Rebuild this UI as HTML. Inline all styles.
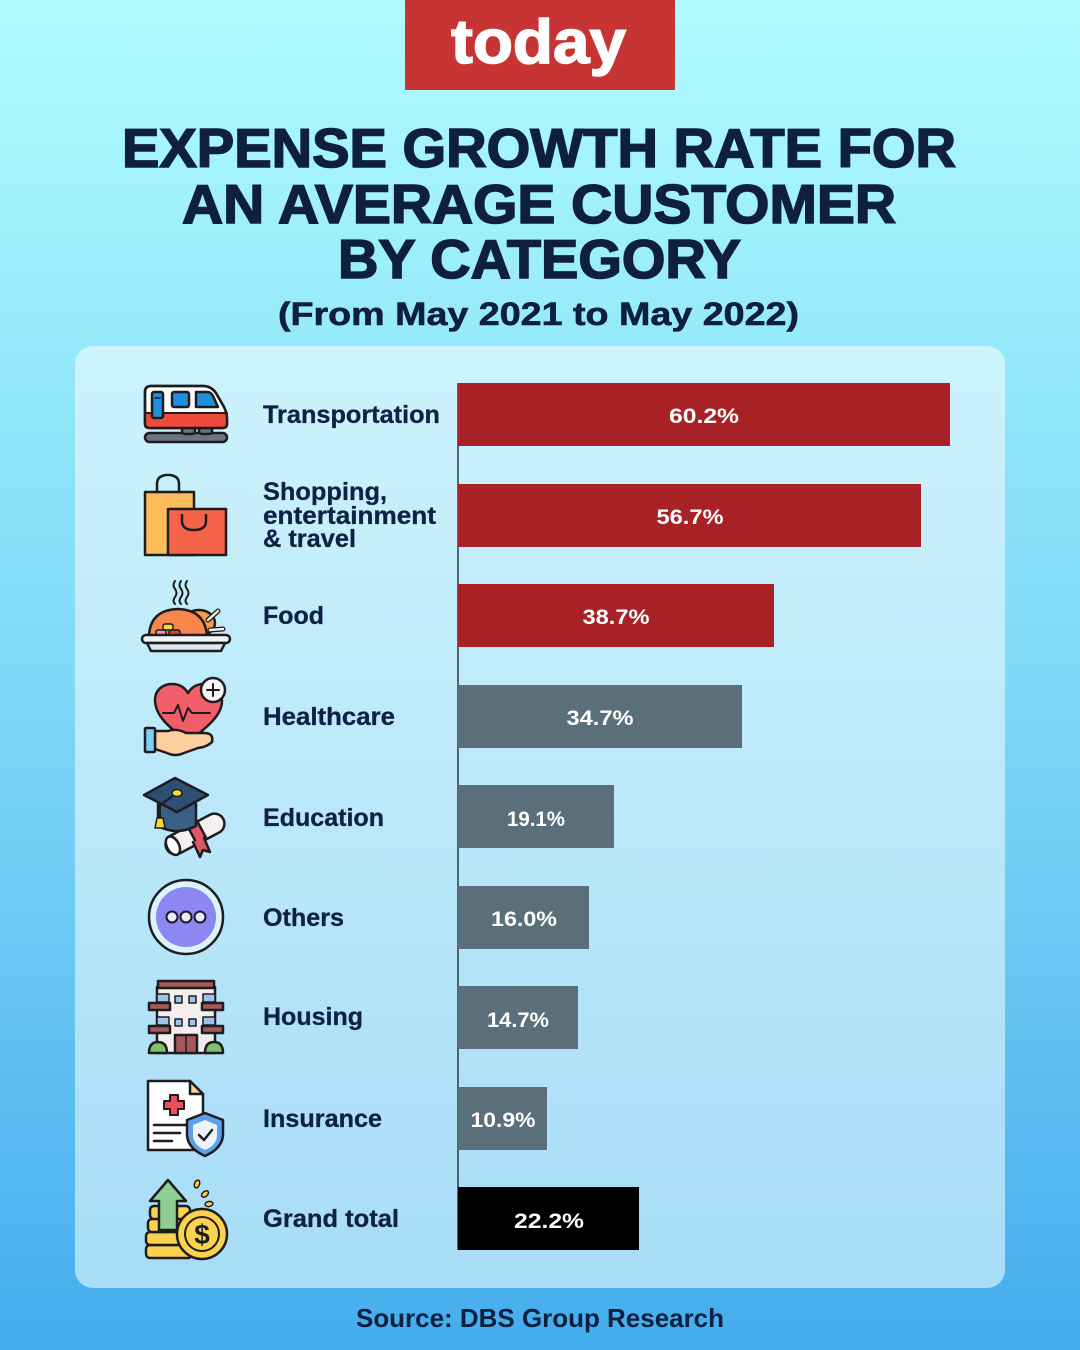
<!DOCTYPE html>
<html><head><meta charset="utf-8"><style>
html,body{margin:0;padding:0;width:1080px;height:1350px;overflow:hidden}
svg{display:block}
text{font-family:"Liberation Sans",sans-serif;font-weight:bold}
</style></head><body>
<svg width="1080" height="1350" viewBox="0 0 1080 1350" xmlns="http://www.w3.org/2000/svg">
<defs>
<linearGradient id="bg" x1="0" y1="0" x2="0" y2="1">
<stop offset="0" stop-color="#b1fcfe"/>
<stop offset="0.3" stop-color="#91e6f9"/>
<stop offset="0.6" stop-color="#76d1f6"/>
<stop offset="0.82" stop-color="#5bbcf1"/>
<stop offset="1" stop-color="#44adee"/>
</linearGradient>
<linearGradient id="card" x1="0" y1="0" x2="0" y2="1">
<stop offset="0" stop-color="#cdf3fc"/>
<stop offset="1" stop-color="#a8dcf7"/>
</linearGradient>
</defs>
<rect x="0" y="0" width="1080" height="1350" fill="url(#bg)"/>
<!-- logo -->
<rect x="405" y="0" width="270" height="90" fill="#c73434"/>
<text x="451" y="63" font-size="62" fill="#fff" stroke="#fff" stroke-width="1.5" textLength="175" lengthAdjust="spacingAndGlyphs">today</text>
<!-- title -->
<g fill="#0e1f3f" stroke="#0e1f3f" stroke-width="1.6">
<text x="122" y="167" font-size="55" textLength="834" lengthAdjust="spacingAndGlyphs">EXPENSE GROWTH RATE FOR</text>
<text x="182" y="223" font-size="55" textLength="714" lengthAdjust="spacingAndGlyphs">AN AVERAGE CUSTOMER</text>
<text x="338" y="278" font-size="55" textLength="403" lengthAdjust="spacingAndGlyphs">BY CATEGORY</text>
</g>
<text x="278" y="325" font-size="32" fill="#0e1f3f" stroke="#0e1f3f" stroke-width="0.6" textLength="521" lengthAdjust="spacingAndGlyphs">(From May 2021 to May 2022)</text>
<!-- card -->
<rect x="75" y="346" width="930" height="942" rx="18" fill="url(#card)"/>
<!-- axis -->
<line x1="458" y1="383" x2="458" y2="1250" stroke="#2d3a40" stroke-width="1.5"/>
<!-- bars -->
<rect x="458" y="383" width="492" height="63" fill="#a82124"/>
<rect x="458" y="484" width="463" height="63" fill="#a82124"/>
<rect x="458" y="584" width="316" height="63" fill="#a82124"/>
<rect x="458" y="685" width="284" height="63" fill="#5a6f7a"/>
<rect x="458" y="785" width="156" height="63" fill="#5a6f7a"/>
<rect x="458" y="886" width="131" height="63" fill="#5a6f7a"/>
<rect x="458" y="986" width="120" height="63" fill="#5a6f7a"/>
<rect x="458" y="1087" width="89" height="63" fill="#5a6f7a"/>
<rect x="458" y="1187" width="181" height="63" fill="#000"/>
<g font-size="21" fill="#fff" text-anchor="middle">
<text x="704" y="423" textLength="70" lengthAdjust="spacingAndGlyphs">60.2%</text>
<text x="690" y="524" textLength="67" lengthAdjust="spacingAndGlyphs">56.7%</text>
<text x="616" y="624" textLength="67" lengthAdjust="spacingAndGlyphs">38.7%</text>
<text x="600" y="725" textLength="67" lengthAdjust="spacingAndGlyphs">34.7%</text>
<text x="536" y="826" textLength="58" lengthAdjust="spacingAndGlyphs">19.1%</text>
<text x="524" y="926" textLength="66" lengthAdjust="spacingAndGlyphs">16.0%</text>
<text x="518" y="1027" textLength="62" lengthAdjust="spacingAndGlyphs">14.7%</text>
<text x="503" y="1127" textLength="65" lengthAdjust="spacingAndGlyphs">10.9%</text>
<text x="549" y="1228" textLength="70" lengthAdjust="spacingAndGlyphs">22.2%</text>
</g>
<!-- labels -->
<g font-size="25" fill="#0f2145" stroke="#0f2145" stroke-width="0.3">
<text x="263" y="423" textLength="177" lengthAdjust="spacingAndGlyphs">Transportation</text>
<text x="263" y="500" textLength="124" lengthAdjust="spacingAndGlyphs">Shopping,</text>
<text x="263" y="524" textLength="173" lengthAdjust="spacingAndGlyphs">entertainment</text>
<text x="263" y="547" textLength="93" lengthAdjust="spacingAndGlyphs">&amp; travel</text>
<text x="263" y="624" textLength="61" lengthAdjust="spacingAndGlyphs">Food</text>
<text x="263" y="725" textLength="132" lengthAdjust="spacingAndGlyphs">Healthcare</text>
<text x="263" y="826" textLength="121" lengthAdjust="spacingAndGlyphs">Education</text>
<text x="263" y="926" textLength="81" lengthAdjust="spacingAndGlyphs">Others</text>
<text x="263" y="1025" textLength="100" lengthAdjust="spacingAndGlyphs">Housing</text>
<text x="263" y="1127" textLength="119" lengthAdjust="spacingAndGlyphs">Insurance</text>
<text x="263" y="1227" textLength="136" lengthAdjust="spacingAndGlyphs">Grand total</text>
</g>
<!-- source -->
<text x="356" y="1327" font-size="26" fill="#0e1f3f" textLength="368" lengthAdjust="spacingAndGlyphs">Source: DBS Group Research</text>

<!-- ICONS -->
<g stroke="#1d1d1f" stroke-width="2.5" stroke-linejoin="round" stroke-linecap="round">
<!-- train -->
<rect x="145" y="433" width="82" height="9" rx="4.5" fill="#6b7580"/>
<rect x="182" y="426" width="13" height="8" rx="3" fill="#6b7580"/>
<rect x="199" y="426" width="13" height="8" rx="3" fill="#6b7580"/>
<path d="M145,392 Q145,386 151,386 L203,386 Q211,386 216,393 L224,407 Q227,413 227,419 L227,424 Q227,428 222,428 L150,428 Q145,428 145,424 Z" fill="#ffffff"/>
<path d="M146.3,413 L226,413 L226,424 Q226,427 222,427 L150,427 Q146.3,427 146.3,424 Z" fill="#ef4a3c" stroke="none"/>
<line x1="145" y1="413" x2="227" y2="413" stroke-width="2"/>
<path d="M145,392 Q145,386 151,386 L203,386 Q211,386 216,393 L224,407 Q227,413 227,419 L227,424 Q227,428 222,428 L150,428 Q145,428 145,424 Z" fill="none"/>
<rect x="152" y="392" width="11" height="26" rx="2" fill="#1f8fe0"/>
<line x1="155" y1="398" x2="160" y2="398" stroke-width="1.5"/>
<rect x="172" y="392" width="17" height="15" rx="2" fill="#1f8fe0"/>
<path d="M196,392 L207,392 Q211,392 213,396 L218,407 L196,407 Z" fill="#1f8fe0"/>

<!-- bags -->
<path d="M157,492 L157,484 Q157,475 168,475 Q179,475 179,484 L179,492" fill="none"/>
<rect x="145" y="492" width="49" height="63" fill="#fdbb59"/>
<rect x="168" y="509" width="58" height="46" fill="#f56449"/>
<path d="M182,515 L182,521 Q182,530 194,530 Q206,530 206,521 L206,515" fill="none"/>

<!-- food -->
<path d="M175,581 q-3,4 0,8 q3,4 0,8 q-3,4 0,7" fill="none" stroke-width="2"/>
<path d="M181,581 q-3,4 0,8 q3,4 0,8 q-3,4 0,7" fill="none" stroke-width="2"/>
<path d="M187,581 q-3,4 0,8 q3,4 0,8 q-3,4 0,7" fill="none" stroke-width="2"/>
<ellipse cx="199" cy="623" rx="16" ry="13" fill="#f59a4f"/>
<path d="M208,620 L218,611" stroke-width="5"/>
<path d="M208,620 L218,611" stroke="#fbe8d8" stroke-width="2.5"/>
<path d="M210,630 L223,629" stroke-width="5"/>
<path d="M210,630 L223,629" stroke="#fbe8d8" stroke-width="2.5"/>
<path d="M149,636 Q150,610 178,609 Q205,610 207,636 Z" fill="#f7874a"/>
<rect x="163" y="624" width="10" height="6" rx="2" fill="#fdd835" stroke-width="1.5"/>
<rect x="156" y="630" width="10" height="6" rx="2" fill="#f48fb1" stroke-width="1.5"/>
<rect x="169" y="630" width="11" height="6" rx="2" fill="#e53935" stroke-width="1.5"/>
<rect x="142" y="635" width="88" height="8" rx="4" fill="#f0f4fa"/>
<path d="M147,643 L225,643 L221,651 L151,651 Z" fill="#dfe7f1"/>

<!-- healthcare -->
<path d="M188,742 C170,728 155,716 155,700 C155,690 163,684 172,684 C180,684 185,688 188,693 C191,688 196,684 204,684 C214,684 222,691 222,701 C222,716 206,728 188,742 Z" fill="#f25d6a"/>
<path d="M163,713 L174,713 L178,705 L183,721 L188,708 L192,713 L210,713" fill="none" stroke-width="2"/>
<circle cx="213" cy="690" r="12" fill="#f5f5f7"/>
<path d="M213,684 L213,696 M207,690 L219,690" stroke-width="2"/>
<path d="M155,731 L168,731 Q177,728 186,733 L204,733 Q214,733 212,742 Q207,747 198,748 L184,753 Q175,757 167,753 L155,749 Z" fill="#fccf9e"/>
<rect x="145" y="728" width="10" height="24" rx="1" fill="#7fd0f5"/>

<!-- education -->
<g transform="rotate(-28 195 834)">
<rect x="163" y="824" width="64" height="20" rx="10" fill="#f3eff3"/>
<rect x="192" y="824" width="11" height="20" fill="#e05866"/>
<ellipse cx="170" cy="834" rx="6" ry="10" fill="#ffffff"/>
</g>
<path d="M193,842 L200,857 L203,850 L210,852 L204,838" fill="#e05866"/>
<path d="M158,804 L158,826 Q177,836 196,826 L196,804" fill="#3a5f85"/>
<path d="M144,795 L175,778 L208,795 L177,812 Z" fill="#2d4f73"/>
<path d="M177,793 L160,805 L160,818" fill="none" stroke-width="2"/>
<ellipse cx="177" cy="793" rx="5" ry="3.5" fill="#fdd835" stroke-width="1.5"/>
<path d="M157,818 L163,818 L165,828 L155,828 Z" fill="#fdd835" stroke-width="1.5"/>

<!-- others -->
<circle cx="186" cy="917" r="37" fill="#dcf2fd"/>
<circle cx="186" cy="917" r="30" fill="#8c87f2" stroke="none"/>
<circle cx="172" cy="917" r="5.5" fill="#eaeaff" stroke-width="2"/>
<circle cx="186" cy="917" r="5.5" fill="#eaeaff" stroke-width="2"/>
<circle cx="200" cy="917" r="5.5" fill="#eaeaff" stroke-width="2"/>

<!-- housing -->
<rect x="157" y="987" width="58" height="66" fill="#f2eeee"/>
<rect x="158" y="981" width="56" height="7" fill="#a6585a"/>
<rect x="157" y="994" width="12" height="8" fill="#9ec4ea" stroke-width="1.5"/>
<rect x="203" y="994" width="12" height="8" fill="#9ec4ea" stroke-width="1.5"/>
<rect x="157" y="1017" width="12" height="8" fill="#9ec4ea" stroke-width="1.5"/>
<rect x="203" y="1017" width="12" height="8" fill="#9ec4ea" stroke-width="1.5"/>
<rect x="149" y="1003" width="21" height="7" fill="#a6585a"/>
<rect x="202" y="1003" width="21" height="7" fill="#a6585a"/>
<rect x="149" y="1026" width="21" height="7" fill="#a6585a"/>
<rect x="202" y="1026" width="21" height="7" fill="#a6585a"/>
<rect x="175" y="996" width="7" height="7" fill="#9ec4ea" stroke-width="1.5"/>
<rect x="189" y="996" width="7" height="7" fill="#9ec4ea" stroke-width="1.5"/>
<rect x="175" y="1019" width="7" height="7" fill="#9ec4ea" stroke-width="1.5"/>
<rect x="189" y="1019" width="7" height="7" fill="#9ec4ea" stroke-width="1.5"/>
<rect x="175" y="1035" width="22" height="18" fill="#a6585a"/>
<line x1="186" y1="1035" x2="186" y2="1053" stroke-width="1.5"/>
<path d="M149,1053 Q149,1042 158,1042 Q167,1042 167,1053 Z" fill="#7cc36b"/>
<path d="M205,1053 Q205,1042 214,1042 Q223,1042 223,1053 Z" fill="#7cc36b"/>

<!-- insurance -->
<path d="M148,1081 L190,1081 L203,1094 L203,1150 L148,1150 Z" fill="#ffffff"/>
<path d="M190,1081 L190,1094 L203,1094 Z" fill="#fcd0a0"/>
<path d="M170,1095 L178,1095 L178,1101 L184,1101 L184,1109 L178,1109 L178,1115 L170,1115 L170,1109 L164,1109 L164,1101 L170,1101 Z" fill="#f04c5a" stroke-width="2"/>
<line x1="154" y1="1125" x2="188" y2="1125" stroke-width="2.5"/>
<line x1="154" y1="1133" x2="180" y2="1133" stroke-width="2.5"/>
<line x1="154" y1="1141" x2="172" y2="1141" stroke-width="2.5"/>
<path d="M205,1113 L223,1120 L223,1134 Q223,1148 205,1156 Q187,1148 187,1134 L187,1120 Z" fill="#5aa0ea"/>
<path d="M205,1120 L217,1125 L217,1135 Q217,1145 205,1150 Q193,1145 193,1135 L193,1125 Z" fill="#eef3fb" stroke="none"/>
<path d="M199,1135 L204,1140 L212,1130" fill="none" stroke-width="2.5"/>

<!-- grand total -->
<rect x="146" y="1245" width="46" height="13" rx="4" fill="#fbd24e"/>
<rect x="146" y="1232" width="46" height="13" rx="4" fill="#fbd24e"/>
<rect x="148" y="1219" width="44" height="13" rx="4" fill="#fbd24e"/>
<rect x="150" y="1206" width="40" height="13" rx="4" fill="#fbd24e"/>
<path d="M168,1180 L186,1201 L177,1201 L177,1230 L159,1230 L159,1201 L150,1201 Z" fill="#8fcf95"/>
<circle cx="202" cy="1234" r="25" fill="#fbd24e"/>
<circle cx="202" cy="1234" r="17" fill="#fbd24e" stroke-width="2"/>
<ellipse cx="197" cy="1184" rx="2.5" ry="4" fill="#fbd24e" stroke-width="1.5" transform="rotate(20 197 1184)"/>
<ellipse cx="205" cy="1194" rx="2.5" ry="4" fill="#fbd24e" stroke-width="1.5" transform="rotate(50 205 1194)"/>
<ellipse cx="209" cy="1204" rx="2.5" ry="4" fill="#fbd24e" stroke-width="1.5" transform="rotate(80 209 1204)"/>
</g>
<text x="202" y="1244" font-size="28" text-anchor="middle" fill="#1d1d1f">$</text>
</svg>
</body></html>
